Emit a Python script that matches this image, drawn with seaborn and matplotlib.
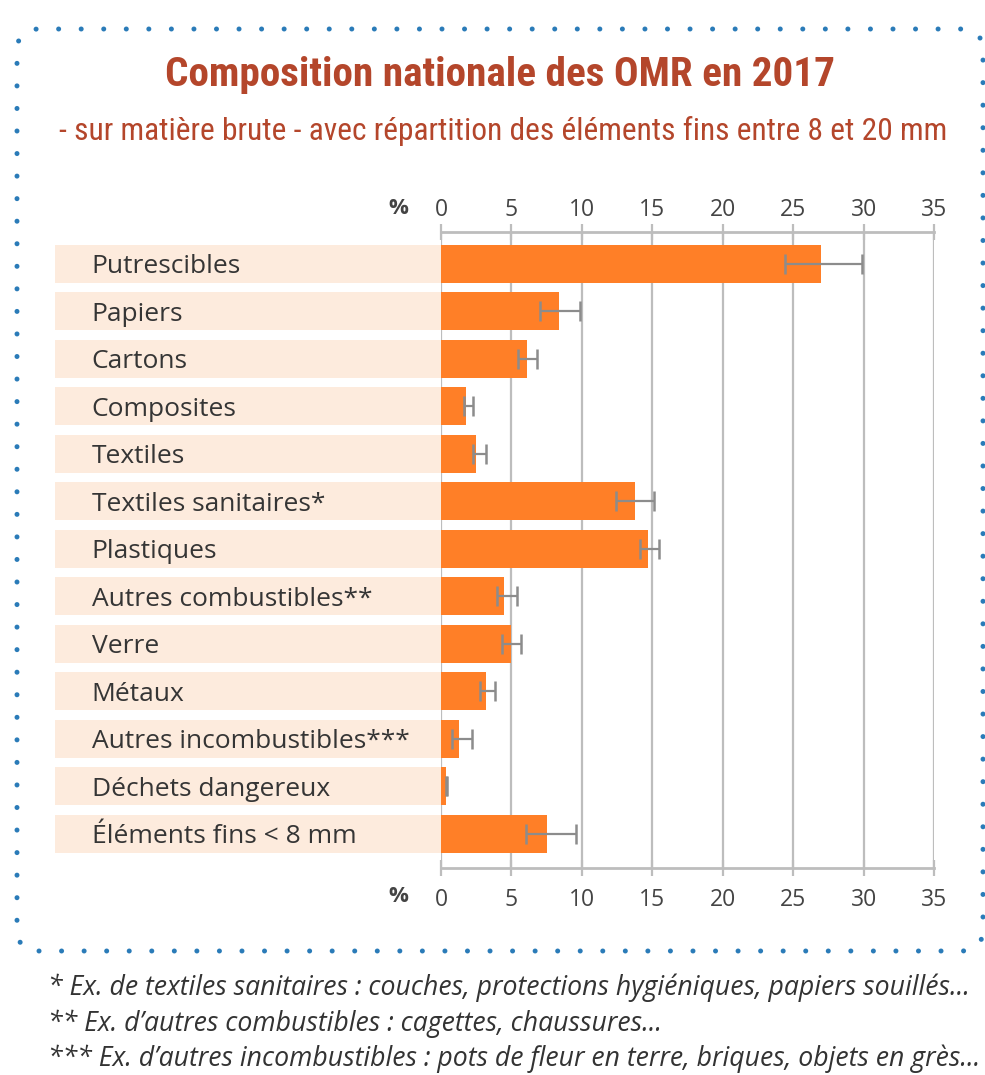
import matplotlib
matplotlib.use("Agg")
import matplotlib.pyplot as plt
import matplotlib.transforms as mtransforms
from matplotlib.patches import FancyBboxPatch
import numpy as np
import pandas as pd
import seaborn as sns

# ---- data ----
categories = ["Putrescibles", "Papiers", "Cartons", "Composites", "Textiles",
              "Textiles sanitaires*", "Plastiques", "Autres combustibles**",
              "Verre", "Métaux", "Autres incombustibles***", "Déchets dangereux",
              "Éléments fins < 8 mm"]
values = [27.0, 8.4, 6.1, 1.8, 2.5, 13.8, 14.7, 4.5, 5.0, 3.2, 1.3, 0.35, 7.5]
err_low = [24.4, 7.0, 5.5, 1.6, 2.3, 12.4, 14.1, 4.0, 4.3, 2.8, 0.8, 0.35, 6.0]
err_high = [29.9, 9.9, 6.8, 2.3, 3.2, 15.1, 15.5, 5.4, 5.7, 3.8, 2.2, 0.45, 9.6]
x_ticks = [0, 5, 10, 15, 20, 25, 30, 35]

title = "Composition nationale des OMR en 2017"
subtitle = "- sur matière brute - avec répartition des éléments fins entre 8 et 20 mm"
footnotes = ["* Ex. de textiles sanitaires : couches, protections hygiéniques, papiers souillés...",
             "** Ex. d’autres combustibles : cagettes, chaussures...",
             "*** Ex. d’autres incombustibles : pots de fleur en terre, briques, objets en grès..."]

ORANGE = "#FF7F27"
PINK = "#FDEBDD"
RUST = "#B4462B"
GRID = "#BDBDBD"
TXT = "#353535"

sns.set_theme(style="white")
plt.rcParams["font.family"] = ["Open Sans", "DejaVu Sans"]

W, H = 985, 1075
fig = plt.figure(figsize=(W / 100, H / 100), dpi=100)
fig.patch.set_facecolor("white")
renderer = fig.canvas.get_renderer()


def fit_width(t, target_px):
    bb = t.get_window_extent(renderer)
    t.set_fontsize(t.get_fontsize() * target_px / bb.width)


# axes placed in pixel terms
ax_l, ax_r, ax_t, ax_b = 441, 934, 232, 868
ax = fig.add_axes([ax_l / W, 1 - ax_b / H, (ax_r - ax_l) / W, (ax_b - ax_t) / H])

df = pd.DataFrame({"cat": categories, "val": values})
ypos = np.arange(len(categories))

# pink label backgrounds extending to the left of zero
ax.barh(ypos, width=-27.4, left=0, height=0.8, color=PINK, clip_on=False, zorder=0, linewidth=0)

sns.barplot(data=df, y="cat", x="val", orient="h", color=ORANGE, width=0.8,
            saturation=1, ax=ax, zorder=3, linewidth=0)

lo = np.array(values) - np.array(err_low)
hi = np.array(err_high) - np.array(values)
ax.errorbar(values, ypos, xerr=[lo, hi], fmt="none", ecolor="#8c8c8c",
            elinewidth=1.6, capsize=7.5, capthick=1.8, zorder=4)

ax.set_xlim(0, 35)
ax.set_ylim(12.72, -0.674)

labels = []
for i, lab in enumerate(categories):
    labels.append(ax.text(-24.8, i + 0.06, lab, ha="left", va="center", fontsize=16,
                          color=TXT, clip_on=False, zorder=5))
# size labels so the longest matches the reference width
ref = labels[categories.index("Autres incombustibles***")]
fit_width(ref, 318)
for t in labels:
    t.set_fontsize(ref.get_fontsize())

ax.set_xticks(x_ticks)
ax.set_yticks([])
ax.set_xlabel("")
ax.set_ylabel("")
ax.grid(axis="x", color=GRID, linewidth=1.6, zorder=1)
ax.grid(axis="y", visible=False)
ax.set_axisbelow(True)
for s in ["left", "right", "top"]:
    ax.spines[s].set_visible(False)
ax.spines["bottom"].set_color(GRID)
ax.spines["bottom"].set_linewidth(2)
ax.tick_params(axis="x", top=False, bottom=True, labeltop=False, labelbottom=True,
               direction="inout", length=11, width=1.6, color=GRID,
               labelsize=16.5, labelcolor="#444444", pad=9)

sec = ax.secondary_xaxis("top")
sec.set_xticks(x_ticks)
sec.spines["top"].set_color(GRID)
sec.spines["top"].set_linewidth(2)
sec.tick_params(axis="x", direction="inout", length=11, width=1.6, color=GRID,
                labelsize=16.5, labelcolor="#444444", pad=2)

# "%" labels
fig.text(398 / W, 1 - 208 / H, "%", ha="center", va="center", fontsize=16,
         fontweight="bold", color="#444444")
fig.text(398 / W, 1 - 897 / H, "%", ha="center", va="center", fontsize=16,
         fontweight="bold", color="#444444")

# title and subtitle
cond = ["Roboto Condensed", "DejaVu Sans"]
t1 = fig.text(500 / W, 1 - 75 / H, title, ha="center", va="center", fontsize=30,
              fontweight="bold", color=RUST, family=cond, fontstretch="condensed")
fit_width(t1, 670)
t2 = fig.text(503 / W, 1 - 131 / H, subtitle, ha="center", va="center", fontsize=22,
              color=RUST, family=cond, fontstretch="condensed")
fit_width(t2, 890)

# footnotes
notes = []
for ytxt, note in zip([988, 1024, 1059], footnotes):
    notes.append(fig.text(48 / W, 1 - ytxt / H, note, ha="left", va="center", fontsize=14,
                          style="italic", color="#333333"))
fit_width(notes[0], 927)
for t in notes[1:]:
    t.set_fontsize(notes[0].get_fontsize())

# dotted rounded border
border = FancyBboxPatch((17, H - 951), 966, 922,
                        boxstyle="round,pad=0,rounding_size=22",
                        transform=mtransforms.IdentityTransform(),
                        fill=False, edgecolor="#2a7bb8", linewidth=3.6,
                        linestyle=(0, (0.01, 4.5)))
border.set_capstyle("round")
fig.add_artist(border)

fig.savefig("out.png", dpi=100)
